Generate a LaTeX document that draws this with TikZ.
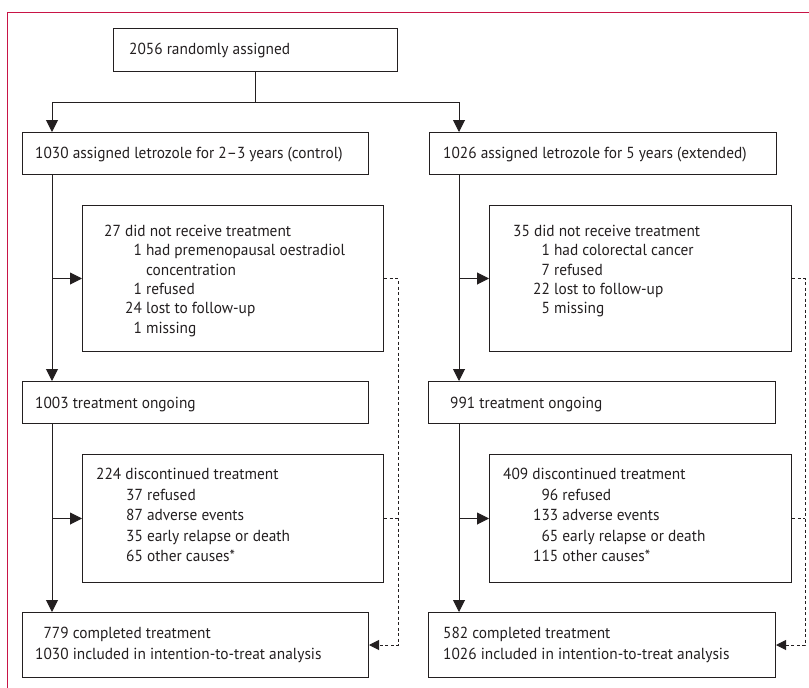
\documentclass[tikz,border=0pt]{standalone}
\usepackage{fontspec}
\setmainfont{PT Sans}[FakeStretch=0.96]
\usetikzlibrary{arrows.meta,calc}
\definecolor{framecol}{RGB}{200,20,70}
\definecolor{ink}{RGB}{35,31,32}
\begin{document}
\begin{tikzpicture}[x=1pt,y=-1pt,
  box/.style={draw=ink, line width=1pt, rectangle, inner sep=0pt, anchor=north west},
  lbl/.style={inner sep=0pt, anchor=base west, text=ink, font=\fontsize{16}{20.6}\selectfont},
  plain/.style={draw=ink, line width=1pt},
  flow/.style={draw=ink, line width=1pt, -{Triangle[length=12pt,width=12pt]}},
  dashline/.style={draw=ink, line width=1pt, dash pattern=on 3pt off 2.5pt},
  dashflow/.style={dashline, -{Triangle[length=10pt,width=10pt]}}
]
\useasboundingbox (0,0) rectangle (809,688);
% frame
\draw[framecol, line width=1pt] (809,12.5) -- (7,12.5) -- (7,688);

% column coordinates
\coordinate (colL) at (52,0);
\coordinate (colR) at (459,0);
\coordinate (dashL) at (398,0);
\coordinate (dashR) at (805,0);

% boxes
\node[box, minimum width=284pt, minimum height=43pt] (T) at (113,28) {};
\node[box, minimum width=346pt, minimum height=42pt] (ctl) at (22,132) {};
\node[box, minimum width=347pt, minimum height=42pt] (ext) at (429,132) {};
\node[box, minimum width=301pt, minimum height=146pt] (exclL) at (82,205) {};
\node[box, minimum width=302pt, minimum height=146pt] (exclR) at (489,205) {};
\node[box, minimum width=346pt, minimum height=42pt] (ongL) at (22,381) {};
\node[box, minimum width=347pt, minimum height=42pt] (ongR) at (428,381) {};
\node[box, minimum width=301pt, minimum height=128pt] (discL) at (82,454) {};
\node[box, minimum width=302pt, minimum height=128pt] (discR) at (489,454) {};
\node[box, minimum width=346pt, minimum height=65pt] (finL) at (22,612) {};
\node[box, minimum width=347pt, minimum height=65pt] (finR) at (428,612) {};

% texts
\node[lbl] (tT) at (129,54.5) {2056 randomly assigned};
\node[lbl] (tCtl) at (35,158.5) {1030 assigned letrozole for 2--3 years (control)};
\node[lbl] (tExt) at (443,158.5) {1026 assigned letrozole for 5 years (extended)};
\node[lbl] (tExclL) at (104,236.5) {\renewcommand{\arraystretch}{0.937}\begin{tabular}[t]{@{\hspace{21pt}}r@{ }l@{}}
\multicolumn{2}{@{}l@{}}{27 did not receive treatment}\\
1 & had premenopausal oestradiol\\
 & concentration\\
1 & refused\\
24 & lost to follow-up\\
1 & missing
\end{tabular}};
\node[lbl] (tExclR) at (513,236.5) {\renewcommand{\arraystretch}{0.937}\begin{tabular}[t]{@{\hspace{20pt}}r@{ }l@{}}
\multicolumn{2}{@{}l@{}}{35 did not receive treatment}\\
1 & had colorectal cancer\\
7 & refused\\
22 & lost to follow-up\\
5 & missing
\end{tabular}};
\node[lbl] (tOngL) at (35,408.5) {1003 treatment ongoing};
\node[lbl] (tOngR) at (450,408.5) {991 treatment ongoing};
\node[lbl] (tDiscL) at (96,479.5) {\begin{tabular}[t]{@{\hspace{30pt}}r@{ }l@{}}
\multicolumn{2}{@{}l@{}}{224 discontinued treatment}\\
37 & refused\\
87 & adverse events\\
35 & early relapse or death\\
65 & other causes*
\end{tabular}};
\node[lbl] (tDiscR) at (503,479.5) {\begin{tabular}[t]{@{\hspace{30pt}}r@{ }l@{}}
\multicolumn{2}{@{}l@{}}{409 discontinued treatment}\\
96 & refused\\
133 & adverse events\\
65 & early relapse or death\\
115 & other causes*
\end{tabular}};
\node[lbl] (tFinL) at (35,638.5) {\begin{tabular}[t]{@{}r@{ }l@{}}
779 & completed treatment\\
1030 & included in intention-to-treat analysis
\end{tabular}};
\node[lbl] (tFinR) at (443,638.5) {\begin{tabular}[t]{@{}l@{}}
582 completed treatment\\
1026 included in intention-to-treat analysis
\end{tabular}};

% connectors
\draw[plain] (T.south) -- ++(0,30) coordinate (split);
\draw[flow] (split) -| (colL |- ctl.north);
\draw[flow] (split) -| (colR |- ext.north);

\draw[flow] (colL |- ctl.south) -- (colL |- ongL.north);
\draw[flow] (colL |- exclL.west) -- (exclL.west);
\draw[flow] (colL |- ongL.south) -- (colL |- finL.north);
\draw[flow] (colL |- discL.west) -- (discL.west);

\draw[flow] (colR |- ext.south) -- (colR |- ongR.north);
\draw[flow] (colR |- exclR.west) -- (exclR.west);
\draw[flow] (colR |- ongR.south) -- (colR |- finR.north);
\draw[flow] (colR |- discR.west) -- (discR.west);

\draw[dashflow] (exclL.east) -| (dashL |- finL.east) -- (finL.east);
\draw[dashline] (discL.east) -- (dashL |- discL.east);
\draw[dashflow] (exclR.east) -| (dashR |- finR.east) -- (finR.east);
\draw[dashline] (discR.east) -- (dashR |- discR.east);
\end{tikzpicture}
\end{document}
